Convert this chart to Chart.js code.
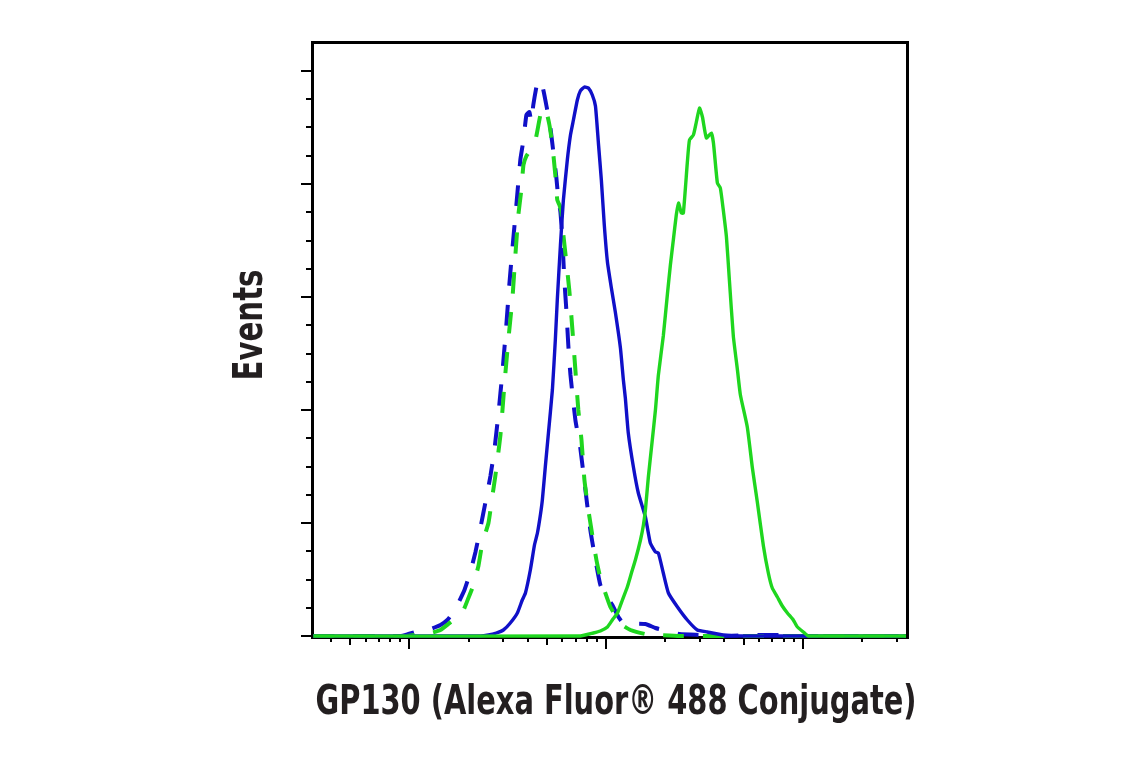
<!DOCTYPE html>
<html>
<head>
<meta charset="utf-8">
<script src="https://cdn.jsdelivr.net/npm/chart.js@4"></script>
<style>
  body { margin: 0; background: #fff; }
  #wrap { width: 1141px; height: 768px; }
</style>
</head>
<body>
<div id="wrap"><canvas id="chart" width="1141" height="768"></canvas></div>
<script>
// x = log10 of fluorescence intensity, y = events per bin
const blueIsotype = [
  [1.512,0],[1.954,0],[1.995,2],[2.031,4],[2.066,6],[2.107,7],[2.158,11],[2.193,16],[2.224,24],[2.249,33],
  [2.280,46],[2.310,64],[2.336,84],[2.361,108],[2.386,133],[2.412,160],[2.432,186],[2.452,221],[2.473,264],
  [2.493,311],[2.508,351],[2.524,388],[2.544,431],[2.564,476],[2.580,496],[2.595,521],[2.610,524],[2.620,514],
  [2.630,531],[2.651,554],[2.666,556],[2.681,546],[2.697,530],[2.717,508],[2.732,484],[2.747,459],[2.758,436],
  [2.768,424],[2.778,396],[2.788,356],[2.798,326],[2.808,291],[2.819,261],[2.844,216],[2.869,188],[2.895,146],
  [2.920,106],[2.946,76],[2.971,51],[3.002,39],[3.032,31],[3.063,19],[3.088,13],[3.200,12],[3.251,8],[3.312,5],
  [3.373,2],[3.480,1],[3.581,0],[3.784,1],[3.886,1],[3.937,0],[4.525,0]
];
const greenIsotype = [
  [1.512,0],[1.980,0],[2.056,2],[2.107,3],[2.158,6],[2.198,12],[2.234,18],[2.275,26],[2.300,38],[2.320,48],
  [2.351,70],[2.371,93],[2.402,113],[2.422,140],[2.437,160],[2.463,201],[2.483,251],[2.503,296],[2.524,338],
  [2.539,381],[2.554,421],[2.569,446],[2.580,471],[2.595,480],[2.615,486],[2.641,496],[2.666,521],[2.681,528],
  [2.697,524],[2.712,511],[2.727,491],[2.742,461],[2.752,436],[2.763,431],[2.773,424],[2.783,401],[2.798,374],
  [2.813,346],[2.829,306],[2.844,266],[2.859,226],[2.875,196],[2.890,156],[2.910,126],[2.930,101],[2.951,76],
  [2.971,58],[2.991,46],[3.022,29],[3.053,19],[3.083,11],[3.124,6],[3.200,2],[3.276,1],[3.373,0],[4.525,0]
];
const blueGP130 = [
  [1.512,0],[2.361,0],[2.402,1],[2.442,3],[2.478,6],[2.513,13],[2.549,23],[2.574,36],[2.590,43],[2.615,66],
  [2.636,91],[2.651,103],[2.666,121],[2.676,136],[2.691,169],[2.707,203],[2.727,246],[2.742,296],[2.752,336],
  [2.768,391],[2.783,436],[2.803,476],[2.819,501],[2.834,516],[2.854,536],[2.869,545],[2.890,549],[2.910,548],
  [2.930,541],[2.946,530],[2.961,493],[2.976,456],[2.991,411],[3.007,374],[3.027,348],[3.047,324],[3.073,288],
  [3.088,256],[3.098,238],[3.113,203],[3.139,169],[3.164,143],[3.200,119],[3.225,93],[3.251,84],[3.266,83],
  [3.291,63],[3.317,43],[3.363,29],[3.413,16],[3.464,6],[3.515,4],[3.596,1],[3.683,0],[4.525,0]
];
const greenGP130 = [
  [1.512,0],[2.869,0],[2.935,3],[2.971,5],[3.007,9],[3.032,16],[3.058,23],[3.083,36],[3.108,49],[3.129,63],
  [3.149,76],[3.175,96],[3.190,111],[3.200,126],[3.215,159],[3.235,196],[3.251,226],[3.266,261],[3.291,300],
  [3.312,342],[3.327,371],[3.342,396],[3.357,421],[3.368,433],[3.383,423],[3.393,423],[3.413,473],[3.424,496],
  [3.444,501],[3.459,514],[3.475,528],[3.490,519],[3.510,498],[3.535,503],[3.546,493],[3.566,453],[3.581,448],
  [3.596,426],[3.612,399],[3.627,356],[3.647,300],[3.668,266],[3.683,241],[3.718,209],[3.744,168],[3.769,134],
  [3.800,90],[3.825,63],[3.845,48],[3.871,39],[3.896,30],[3.922,23],[3.952,16],[3.973,9],[4.003,4],[4.028,0],[4.525,0]
];

// axis ranges and tick marks (no tick labels are shown on the original)
const xRange = [1.515, 4.525];          // log10 units
const yRange = [0, 592];
const xMantissas = [1, 2, 3, 4, 5, 6, 7, 8, 9];
const yMajorStep = 113;
const yMinorPerMajor = 4;
const xTitle = 'GP130 (Alexa Fluor® 488 Conjugate)';
const yTitle = 'Events';

const blue = '#1010c8';
const green = '#1fd61f';
const titleFont = "bold 41px 'Liberation Sans Narrow', 'DejaVu Sans Condensed', 'Liberation Sans', Arial, sans-serif";

// build tick list for the log axis
const xTicks = [];
for (let d = Math.floor(xRange[0]); d <= Math.floor(xRange[1]); d++) {
  xMantissas.forEach(m => {
    const v = d + Math.log10(m);
    if (v >= xRange[0] && v <= xRange[1]) {
      xTicks.push({ value: v, len: m === 1 ? 13 : (m === 5 ? 9 : 6) });
    }
  });
}
const yTicks = [];
for (let i = 0; i * yMajorStep / yMinorPerMajor <= yRange[1]; i++) {
  yTicks.push({ value: i * yMajorStep / yMinorPerMajor, len: i % yMinorPerMajor === 0 ? 13 : 8 });
}

// condensed bold label: squeeze the installed font to the original's width
function condensedText(ctx, text, x, y, width, rotate) {
  ctx.save();
  ctx.font = titleFont;
  ctx.textAlign = 'center';
  ctx.textBaseline = 'middle';
  ctx.fillStyle = '#231f20';
  const k = Math.min(1, width / ctx.measureText(text).width);
  ctx.translate(x, y);
  if (rotate) ctx.rotate(-Math.PI / 2);
  ctx.scale(k, 1);
  ctx.fillText(text, 0, 0);
  ctx.restore();
}

// frame + tick marks + axis titles
const frameTicks = {
  id: 'frameTicks',
  beforeDatasetsDraw(chart) {
    const { ctx, chartArea: a, scales } = chart;
    ctx.save();
    ctx.strokeStyle = '#000';
    ctx.lineWidth = 2;
    ctx.beginPath();
    xTicks.forEach(t => {
      const px = Math.round(scales.x.getPixelForValue(t.value));
      ctx.moveTo(px, a.bottom);
      ctx.lineTo(px, a.bottom + t.len);
    });
    yTicks.forEach(t => {
      const py = Math.round(scales.y.getPixelForValue(t.value));
      ctx.moveTo(a.left, py);
      ctx.lineTo(a.left - t.len, py);
    });
    ctx.stroke();
    ctx.lineWidth = 3;
    ctx.strokeRect(a.left - 1.5, a.top - 1.5, a.width + 3, a.height + 3);
    ctx.restore();

    condensedText(ctx, xTitle, (a.left + a.right) / 2 + 6, a.bottom + 67, 601, false);
    condensedText(ctx, yTitle, a.left - 63, (a.top + a.bottom) / 2 - 15, 111, true);
  }
};

function series(points, color, dashed) {
  return {
    data: points.map(p => ({ x: p[0], y: p[1] })),
    borderColor: color,
    borderWidth: dashed ? 4 : 3.4,
    borderDash: dashed ? [21, 19] : [],
    pointRadius: 0,
    tension: 0.15,
    fill: false,
    clip: false
  };
}

const ctx = document.getElementById('chart').getContext('2d');
const chart = new Chart(ctx, {
  type: 'line',
  data: {
    datasets: [
      series(greenGP130, green, false),
      series(blueGP130, blue, false),
      series(greenIsotype, green, true),
      series(blueIsotype, blue, true)
    ]
  },
  options: {
    responsive: false,
    animation: false,
    layout: { padding: { left: 233, top: 44, right: 235, bottom: 0 } },
    plugins: { legend: { display: false }, tooltip: { enabled: false } },
    scales: {
      x: {
        type: 'linear',
        min: xRange[0],
        max: xRange[1],
        grid: { display: false },
        border: { display: false },
        ticks: { display: false },
        title: { display: false },
        afterFit(s) { s.height = 132; }
      },
      y: {
        type: 'linear',
        min: yRange[0],
        max: yRange[1],
        grid: { display: false },
        border: { display: false },
        ticks: { display: false },
        title: { display: false },
        afterFit(s) { s.width = 81; }
      }
    }
  },
  plugins: [frameTicks]
});
</script>
</body>
</html>
